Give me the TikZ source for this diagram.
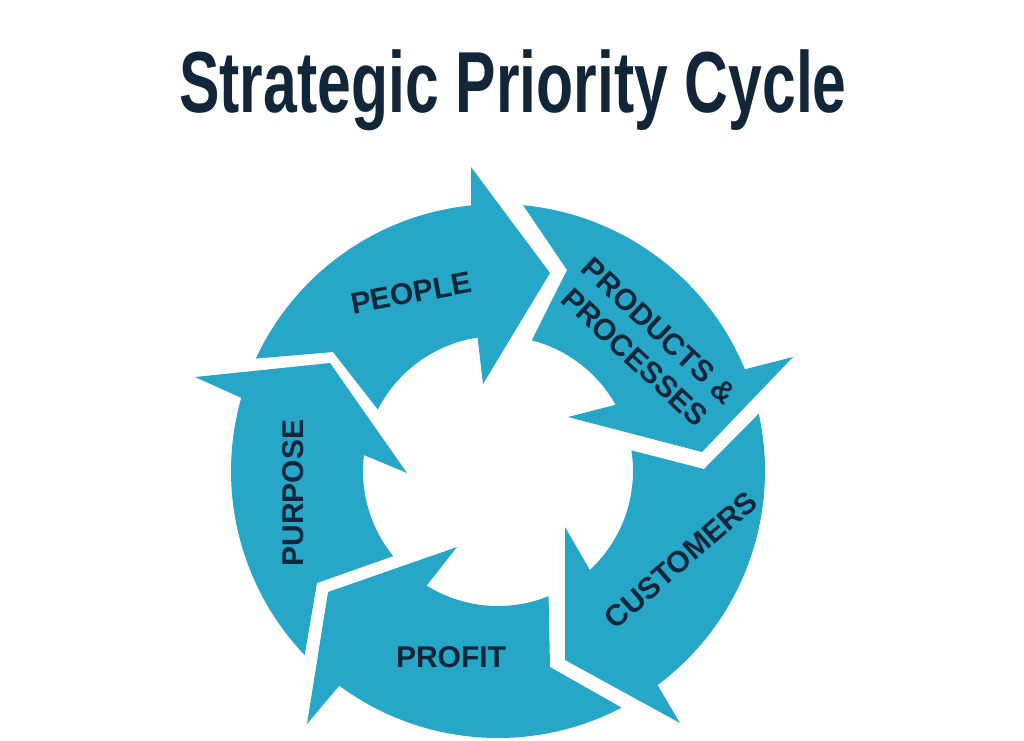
\documentclass[tikz,border=0pt]{standalone}
\usepackage{fontspec}
\setmainfont{Liberation Sans}
\newfontfamily\titlefont{Liberation Sans}[FakeStretch=0.70]
\usetikzlibrary{calc}
\definecolor{cycleblue}{RGB}{39,167,200}
\definecolor{cyclenavy}{RGB}{18,38,58}
\tikzset{
  cyclearrow/.style={fill=cycleblue, draw=none},
  cyclelabel/.style={text=cyclenavy, inner sep=0, font=\bfseries\fontsize{22.5}{27}\selectfont}
}
\begin{document}
\begin{tikzpicture}[x=0.75pt,y=0.75pt,yscale=-1,xscale=1]
%set diagram size 1024 x 740
\useasboundingbox (0,0) rectangle (1024,740);
\coordinate (c) at (498,471);

%Title
\node (title) [anchor=base, inner sep=0, text=cyclenavy, font=\titlefont\bfseries\fontsize{65}{70}\selectfont] at (513,112) {Strategic Priority Cycle};

%Shape: Arrow people
\path [cyclearrow] ($(c)+(-155.1:267)$) arc[start angle=-155.1, end angle=-95.8, radius=267] -- (471,167) -- (550,273) -- (483,384) -- ($(c)+(-98.7:135)$) arc[start angle=-98.7, end angle=-152.9, radius=135] -- (333,352) -- cycle ;
%Shape: Arrow products
\path [cyclearrow] ($(c)+(-84.6:267)$) arc[start angle=-84.6, end angle=-22.4, radius=267] -- (793,357) -- (702,452) -- (568,417) -- ($(c)+(-29.4:135)$) arc[start angle=-29.4, end angle=-75.5, radius=135] -- (567,270) -- cycle ;
%Shape: Arrow customers
\path [cyclearrow] ($(c)+(-12.4:267)$) arc[start angle=-12.4, end angle=53.3, radius=267] -- (680,723) -- (565,660) -- (565,527) -- ($(c)+(47.1:135)$) arc[start angle=47.1, end angle=-8.8, radius=135] -- (704,469) -- cycle ;
%Shape: Arrow profit
\path [cyclearrow] ($(c)+(62.4:267)$) arc[start angle=62.4, end angle=126.5, radius=267] -- (307,724) -- (328,592) -- (457,547) -- ($(c)+(121.9:135)$) arc[start angle=121.9, end angle=68.0, radius=135] -- (550,667) -- cycle ;
%Shape: Arrow purpose
\path [cyclearrow] ($(c)+(136.4:267)$) arc[start angle=136.4, end angle=195.9, radius=267] -- (195,377) -- (330,363) -- (407,473) -- ($(c)+(186.8:135)$) arc[start angle=186.8, end angle=140.9, radius=135] -- (317,583) -- cycle ;

%Labels
\node (people) [cyclelabel, rotate=10.6] at (411,293) {PEOPLE};
\node (products) [cyclelabel, rotate=-43, align=center] at (647,344) {PRODUCTS \&\\PROCESSES};
\node (customers) [cyclelabel, rotate=41] at (681,560) {CUSTOMERS};
\node (profit) [cyclelabel] at (451,657) {PROFIT};
\node (purpose) [cyclelabel, rotate=90] at (293,493) {PURPOSE};

\end{tikzpicture}
\end{document}
